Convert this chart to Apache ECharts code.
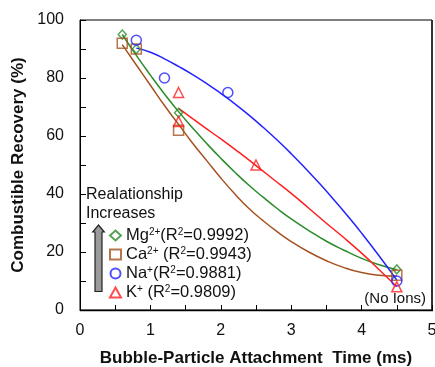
<!DOCTYPE html>
<html>
<head>
<meta charset="utf-8">
<script src="https://cdn.jsdelivr.net/npm/echarts@6/dist/echarts.min.js"></script>
<style>
html,body{margin:0;padding:0;background:#fff;}
#chart{width:435px;height:367px;}
</style>
</head>
<body>
<div id="chart"></div>
<script>
// ---- measured data ----
const mgX = [0.6, 0.8, 1.4, 4.5];
const mgY = [95, 90, 68, 14];
const caX = [0.6, 0.8, 1.4, 4.5];
const caY = [92, 90, 62, 12];
const naX = [0.8, 1.2, 2.1, 4.5];
const naY = [93, 80, 75, 10];
const kX  = [1.4, 1.4, 2.5, 4.5];
const kY  = [75, 65, 50, 8];

// trend curves
const mgFitX = [0.6, 0.8, 1.0, 1.2, 1.4, 1.6, 1.8, 2.0, 2.2, 2.4, 2.6, 2.8, 3.0, 3.25, 3.5, 3.75, 4.0, 4.25, 4.5];
const mgFitY = [95, 87.8, 81, 74.5, 68.4, 62.8, 57.4, 52.3, 47.5, 43, 38.9, 35, 31.4, 27.4, 23.7, 20.6, 17.8, 15.6, 13.9];
const caFitX = [0.6, 0.8, 1.0, 1.2, 1.4, 1.6, 1.8, 2.0, 2.2, 2.4, 2.6, 2.8, 3.0, 3.25, 3.5, 3.75, 4.0, 4.25, 4.5];
const caFitY = [91.5, 84.5, 77.5, 70.5, 64, 57.5, 51.5, 45.5, 40, 35, 30.8, 27, 23.6, 20, 17, 14.6, 12.9, 12, 11.7];
const naFitX = [0.8, 1.0, 1.2, 1.4, 1.6, 1.8, 2.0, 2.2, 2.4, 2.6, 2.8, 3.0, 3.2, 3.4, 3.6, 3.8, 4.0, 4.25, 4.5];
const naFitY = [90.3, 88.9, 86.6, 84.0, 81.2, 78.1, 74.7, 71.1, 67.2, 63.0, 58.6, 53.9, 48.9, 43.7, 38.2, 32.5, 26.5, 18.6, 10.3];
const kFitX  = [1.4, 1.75, 2.0, 2.25, 2.5, 2.75, 3.0, 3.25, 3.5, 3.75, 4.0, 4.25, 4.5];
const kFitY  = [69.5, 63.3, 59, 54.5, 49.8, 45, 40.2, 35.1, 29.9, 24.9, 19.6, 13.9, 8];

const legendNames = ['Mg', 'Ca', 'Na', 'K'];
const legendLabels = {
  Mg: '{n|Mg}{s|2+}{n|(R}{s|2}{n|=0.9992)}',
  Ca: '{n|Ca}{s|2+}{n| (R}{s|2}{n|=0.9943)}',
  Na: '{n|Na}{s|+}{n|(R}{s|2}{n|=0.9881)}',
  K:  '{n|K}{s|+}{n| (R}{s|2}{n|=0.9809)}'
};
const xMin = 0, xMax = 5, xInterval = 1;
const yMin = 0, yMax = 100, yInterval = 20;

const colors = { Mg: '#2a8c2a', Ca: '#a5521f', Na: '#2323ff', K: '#ff1f1f' };
const FONT = 'Liberation Sans, Arial, sans-serif';

function pairs(xs, ys) { return xs.map((x, i) => [x, ys[i]]); }

const chart = echarts.init(document.getElementById('chart'));

function scatter(name, xs, ys, symbol, size) {
  return {
    name: name, type: 'scatter', data: pairs(xs, ys), symbol: symbol, symbolSize: size, z: 5,
    itemStyle: { color: 'rgba(255,255,255,0)', borderColor: colors[name], borderWidth: 1.5 }
  };
}
function fit(name, xs, ys) {
  return {
    name: name + 'fit', type: 'line', data: pairs(xs, ys), smooth: true,
    showSymbol: false, z: 3, lineStyle: { color: colors[name], width: 1.5 }, silent: true
  };
}

chart.setOption({
  animation: false,
  grid: { left: 80, right: 3, top: 20, bottom: 57, containLabel: false, outerBoundsMode: 'none',
    show: true, borderColor: '#000', borderWidth: 1, backgroundColor: 'transparent' },
  xAxis: {
    type: 'value', min: xMin, max: xMax, interval: xInterval,
    name: 'Bubble-Particle Attachment  Time (ms)', nameLocation: 'middle', nameGap: 40,
    nameTextStyle: { fontFamily: FONT, fontSize: 17, fontWeight: 'bold', color: '#111' },
    axisLine: { show: true, lineStyle: { color: '#000', width: 1 } },
    axisTick: { show: true, inside: true, length: 5, lineStyle: { color: '#000', width: 1 } },
    minorTick: { show: true, splitNumber: 2, length: 5, lineStyle: { color: '#000', width: 1 } },
    axisLabel: { fontFamily: FONT, fontSize: 16, color: '#111', margin: 13 },
    splitLine: { show: false }
  },
  yAxis: {
    type: 'value', min: yMin, max: yMax, interval: yInterval,
    name: 'Combustible Recovery (%)', nameLocation: 'middle', nameGap: 46,
    nameTextStyle: { fontFamily: FONT, fontSize: 17, fontWeight: 'bold', color: '#111' },
    axisLine: { show: true, lineStyle: { color: '#000', width: 1 } },
    axisTick: { show: true, inside: true, length: 6, lineStyle: { color: '#000', width: 1 } },
    minorTick: { show: true, splitNumber: 2, length: 6, lineStyle: { color: '#000', width: 1 } },
    axisLabel: { fontFamily: FONT, fontSize: 16, color: '#111', margin: 16 },
    splitLine: { show: false }
  },
  legend: {
    data: legendNames, orient: 'vertical', left: 104, top: 222, itemGap: 2,
    itemWidth: 11, itemHeight: 10, selectedMode: false,
    formatter: function (n) { return legendLabels[n]; },
    textStyle: {
      fontFamily: FONT, color: '#111',
      rich: {
        n: { fontFamily: FONT, fontSize: 16.5, lineHeight: 17, color: '#111' },
        s: { fontFamily: FONT, fontSize: 10, lineHeight: 10, verticalAlign: 'top', color: '#111' }
      }
    }
  },
  graphic: [
    { type: 'text', left: 86, top: 187, style: { text: 'Realationship', font: '16px ' + FONT, fill: '#111' } },
    { type: 'text', left: 86, top: 206, style: { text: 'Increases', font: '16px ' + FONT, fill: '#111' } },
    { type: 'polygon', shape: { points: [[98.5, 225], [104.3, 232], [102, 232], [102, 291.5], [95, 291.5], [95, 232], [92.7, 232]] },
      style: { fill: '#9a9a9a', stroke: '#222', lineWidth: 1.2 } },
    { type: 'text', right: 9, top: 291, style: { text: '(No Ions)', font: '15px ' + FONT, fill: '#111' } },
    { type: 'line', shape: { x1: 432, y1: 20, x2: 432, y2: 311 }, style: { stroke: '#333', lineWidth: 2 } },
    { type: 'line', shape: { x1: 80, y1: 310.5, x2: 433, y2: 310.5 }, style: { stroke: '#111', lineWidth: 1.5 } }
  ],
  series: [
    fit('Mg', mgFitX, mgFitY),
    fit('Ca', caFitX, caFitY),
    fit('Na', naFitX, naFitY),
    fit('K', kFitX, kFitY),
    scatter('Mg', mgX, mgY, 'diamond', [8, 9]),
    scatter('Ca', caX, caY, 'rect', 10),
    scatter('Na', naX, naY, 'circle', 10),
    scatter('K', kX, kY, 'triangle', 10)
  ]
});
</script>
</body>
</html>
